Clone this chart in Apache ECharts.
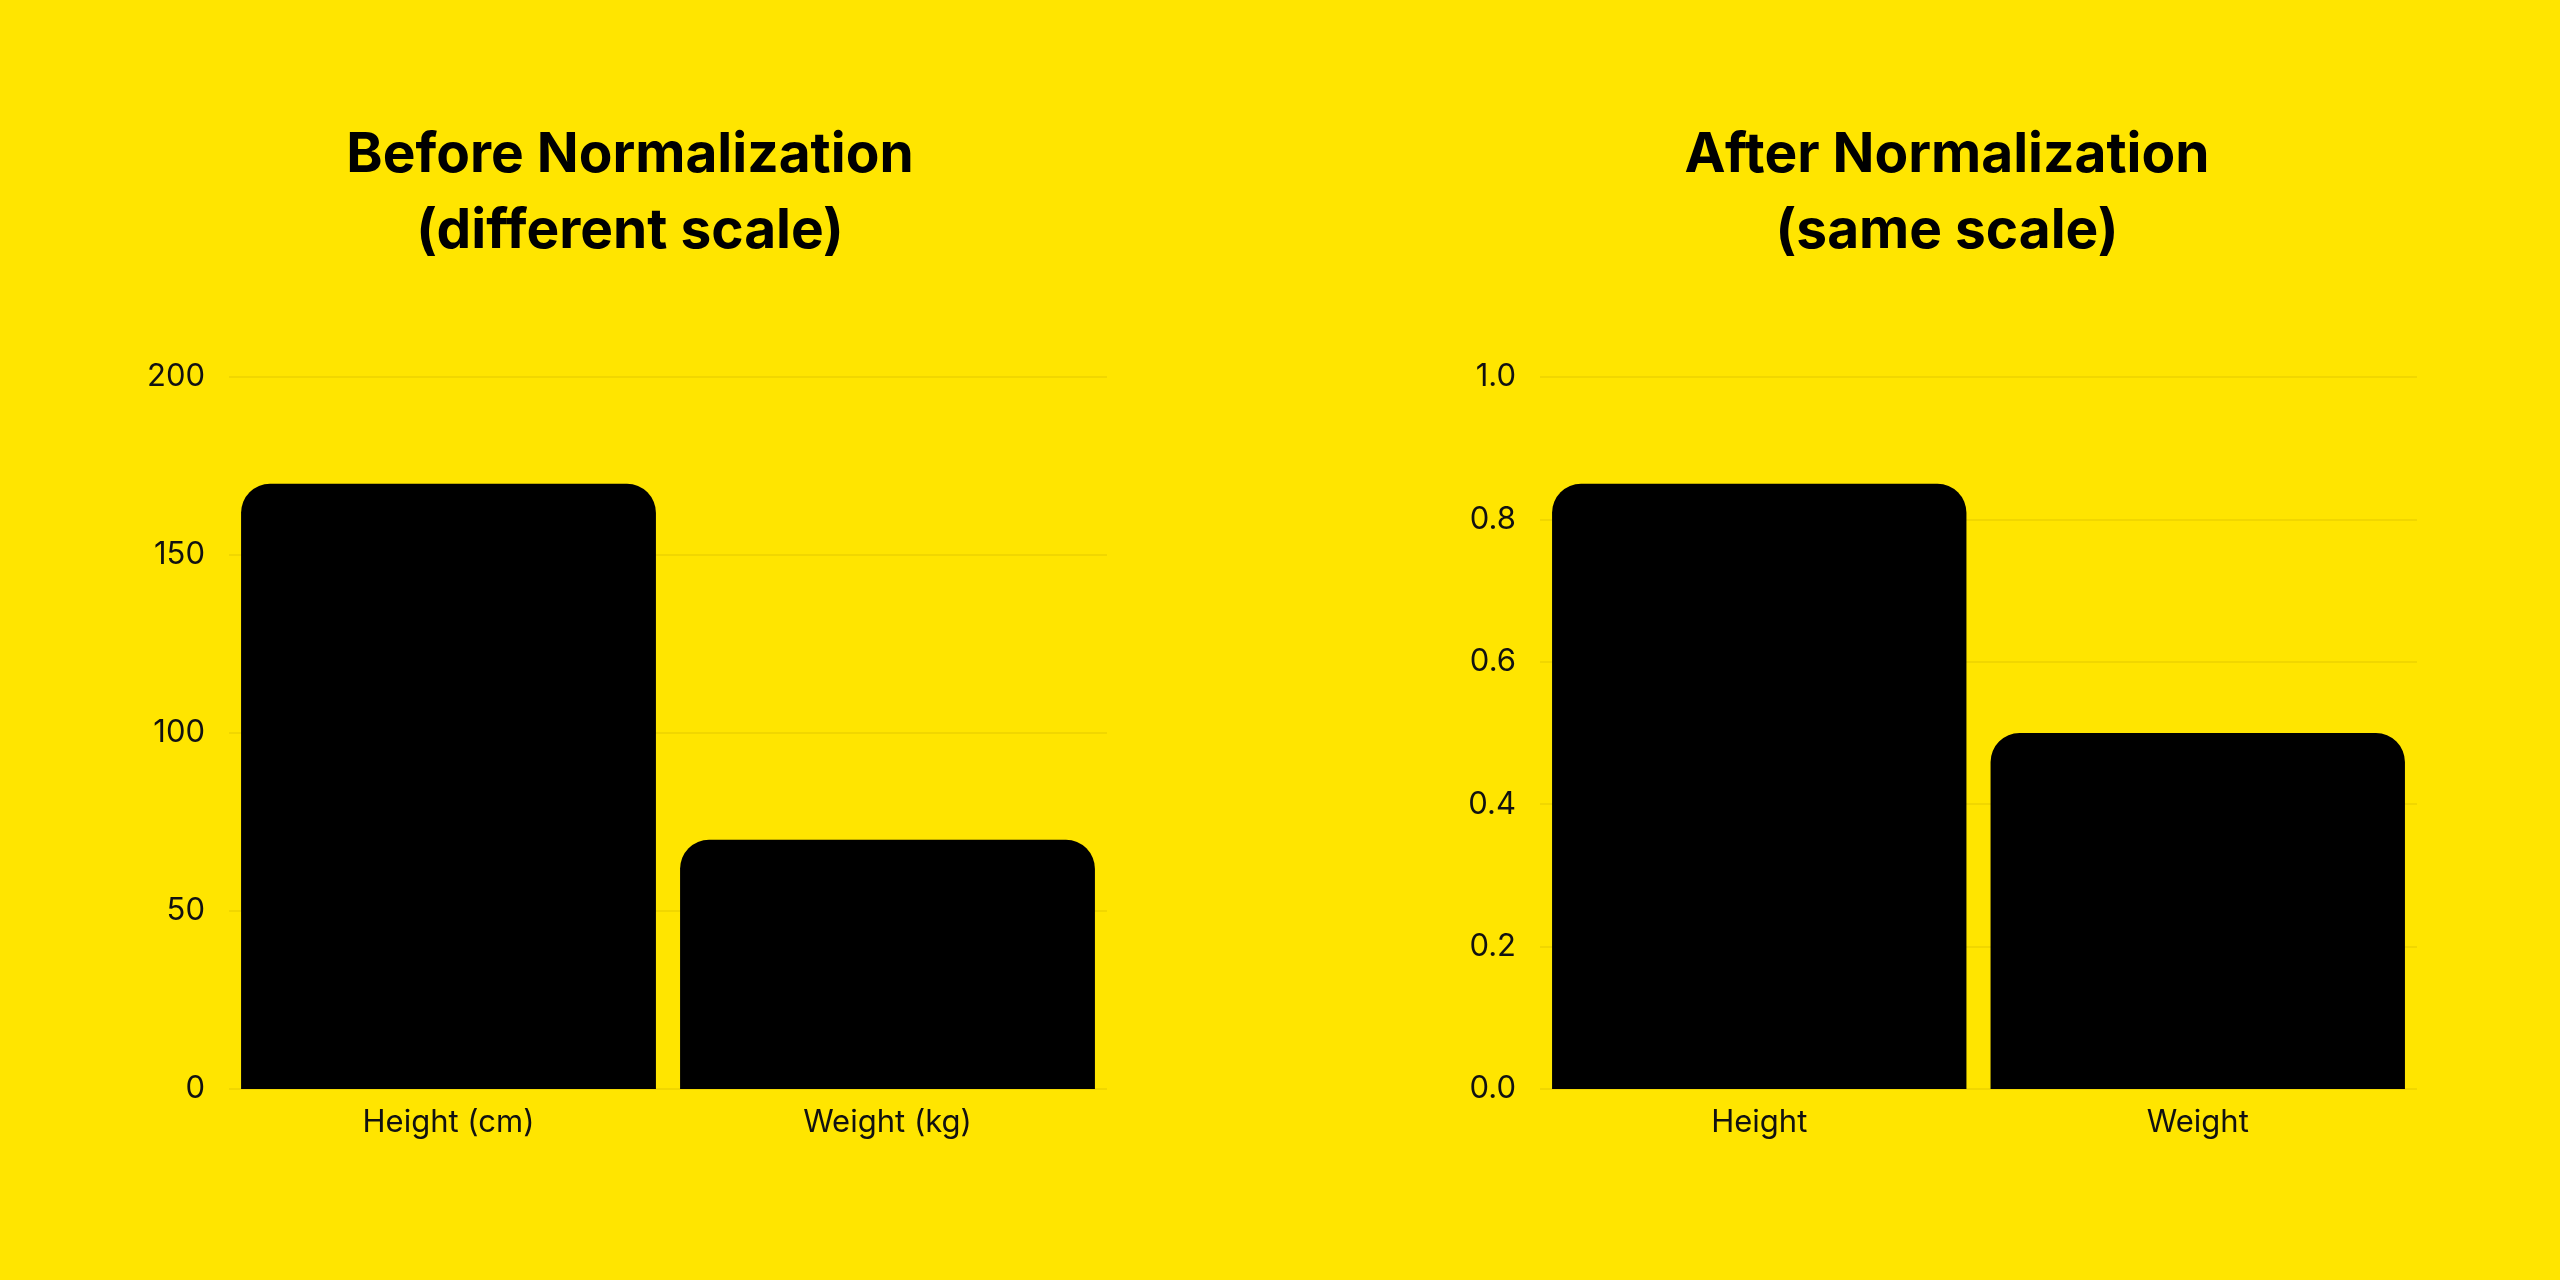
<!DOCTYPE html>
<html>
<head>
<meta charset="utf-8">
<script src="https://cdn.jsdelivr.net/npm/echarts@6/dist/echarts.min.js"></script>
<style>html,body{margin:0;padding:0;background:#FFE500;}#main{width:2560px;height:1280px;}</style>
</head>
<body>
<div id="main"></div>
<script>
// data
var beforeCats = ['Height (cm)', 'Weight (kg)'];
var beforeVals = [170, 70];
var afterCats = ['Height', 'Weight'];
var afterVals = [0.85, 0.5];

var labelStyle = {color: '#111', fontSize: 31, fontFamily: 'Inter', margin: 18};
var splitStyle = {show: true, lineStyle: {color: '#ecd200', width: 1.5}};

function xAxis(idx, cats) {
    return {
        type: 'category', gridIndex: idx, data: cats,
        axisLine: {show: false}, axisTick: {show: false},
        axisLabel: labelStyle
    };
}

var chart = echarts.init(document.getElementById('main'));
chart.setOption({
    backgroundColor: '#FFE500',
    title: [
        {text: 'Before Normalization\n(different scale)', left: 625, top: 112, textAlign: 'center',
         textStyle: {fontSize: 55, fontWeight: 'bold', fontFamily: 'Inter', color: '#000', lineHeight: 76}},
        {text: 'After Normalization\n(same scale)', left: 1942, top: 112, textAlign: 'center',
         textStyle: {fontSize: 55, fontWeight: 'bold', fontFamily: 'Inter', color: '#000', lineHeight: 76}}
    ],
    grid: [
        {left: 229, width: 878, top: 377, height: 712},
        {left: 1540, width: 877, top: 377, height: 712}
    ],
    xAxis: [xAxis(0, beforeCats), xAxis(1, afterCats)],
    yAxis: [
        {type: 'value', gridIndex: 0, min: 0, max: 200, interval: 50,
         axisLabel: Object.assign({}, labelStyle, {margin: 24}), splitLine: splitStyle},
        {type: 'value', gridIndex: 1, min: 0, max: 1, interval: 0.2,
         axisLabel: Object.assign({}, labelStyle, {margin: 24, formatter: function (v) { return v.toFixed(1); }}),
         splitLine: splitStyle}
    ],
    series: [
        {type: 'bar', xAxisIndex: 0, yAxisIndex: 0, data: beforeVals, barWidth: '94.5%',
         itemStyle: {color: '#000', borderRadius: [29, 29, 0, 0]}},
        {type: 'bar', xAxisIndex: 1, yAxisIndex: 1, data: afterVals, barWidth: '94.5%',
         itemStyle: {color: '#000', borderRadius: [29, 29, 0, 0]}}
    ]
});
</script>
</body>
</html>
